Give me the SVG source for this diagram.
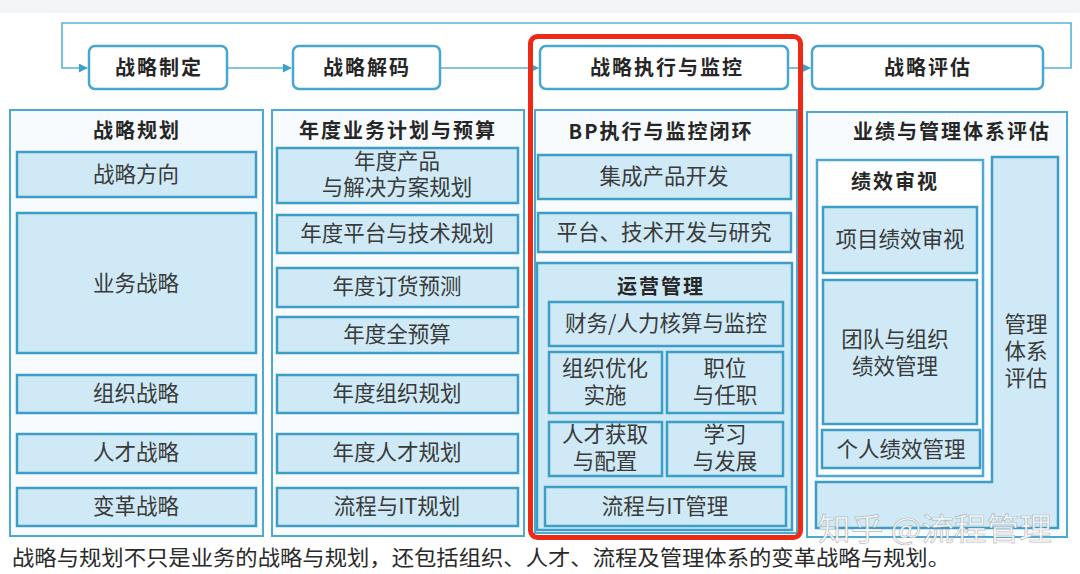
<svg xmlns="http://www.w3.org/2000/svg" width="1080" height="574" viewBox="0 0 1080 574">
<defs>
<marker id="arr" viewBox="0 0 10 10" refX="9" refY="5" markerWidth="10" markerHeight="9" markerUnits="userSpaceOnUse" orient="auto">
<path d="M0,0 L10,5 L0,10 z" fill="#3aa0cc"/>
</marker>
<style>
.top{fill:#ffffff;stroke:#47a7cf;stroke-width:2.5}
.panel{fill:#f8fbfd;stroke:#4ea9d0;stroke-width:2}
.box{fill:#cfeaf6;stroke:#3c9dc7;stroke-width:2.5}
.sub{fill:#ffffff;stroke:#4ea9d0;stroke-width:2.5}
.conn{fill:none;stroke:#5ab2d7;stroke-width:1.6}
.h{font-family:"Noto Sans CJK SC","Liberation Sans",sans-serif;font-weight:700;font-size:20px;fill:#262626;text-anchor:middle;letter-spacing:2px}
.t{font-family:"Noto Sans CJK SC","Liberation Serif",sans-serif;font-weight:400;font-size:21.5px;fill:#3a3a3a;text-anchor:middle}
.f{font-family:"Noto Sans CJK SC","Liberation Serif",sans-serif;font-size:21px;fill:#2a2a2a}
.wm{font-family:"Noto Sans CJK SC","Liberation Sans",sans-serif;font-size:31px;fill:#ffffff;fill-opacity:0.92;stroke:#8a8a8a;stroke-width:0.7;stroke-opacity:0.6}
</style>
</defs>
<rect x="0" y="0" width="1080" height="574" fill="#ffffff"/>
<rect x="0" y="0" width="1080" height="13" fill="#f4f5f7"/>

<g id="connectors">
<path class="conn" d="M1043,68 H1071 V23 H62 V68 H87" marker-end="url(#arr)"/>
<path class="conn" d="M227,68 H291" marker-end="url(#arr)"/>
<path class="conn" d="M440,68 H538" marker-end="url(#arr)"/>
<path class="conn" d="M788,68 H810" marker-end="url(#arr)"/>
</g>

<g id="stage-formulate">
<rect class="top" x="89" y="46" width="138" height="43" rx="6"/>
<text class="h" x="159" y="75">战略制定</text>
</g>
<g id="stage-decode">
<rect class="top" x="293" y="46" width="147" height="43" rx="6"/>
<text class="h" x="367" y="75">战略解码</text>
</g>
<g id="stage-execute">
<rect class="top" x="540" y="46" width="248" height="43" rx="6"/>
<text class="h" x="667" y="75">战略执行与监控</text>
</g>
<g id="stage-evaluate">
<rect class="top" x="812" y="46" width="231" height="43" rx="6"/>
<text class="h" x="928" y="75">战略评估</text>
</g>

<g id="col-planning">
<rect class="panel" x="10" y="110" width="253" height="426"/>
<text class="h" x="137" y="138">战略规划</text>
<rect class="box" x="17" y="152" width="239" height="45"/>
<text class="t" x="136" y="182">战略方向</text>
<rect class="box" x="17" y="213" width="239" height="140"/>
<text class="t" x="136" y="291">业务战略</text>
<rect class="box" x="17" y="375" width="239" height="38"/>
<text class="t" x="136" y="401">组织战略</text>
<rect class="box" x="17" y="434" width="239" height="39"/>
<text class="t" x="136" y="460">人才战略</text>
<rect class="box" x="17" y="488" width="239" height="38"/>
<text class="t" x="136" y="514">变革战略</text>
</g>

<g id="col-annual">
<rect class="panel" x="272" y="110" width="252" height="426"/>
<text class="h" x="398" y="138">年度业务计划与预算</text>
<rect class="box" x="277" y="148" width="241" height="55"/>
<text class="t" x="397" y="169">年度产品<tspan x="397" dy="26">与解决方案规划</tspan></text>
<rect class="box" x="277" y="215" width="241" height="38"/>
<text class="t" x="397" y="241">年度平台与技术规划</text>
<rect class="box" x="277" y="268" width="241" height="39"/>
<text class="t" x="397" y="294">年度订货预测</text>
<rect class="box" x="277" y="317" width="241" height="36"/>
<text class="t" x="397" y="342">年度全预算</text>
<rect class="box" x="277" y="375" width="241" height="38"/>
<text class="t" x="397" y="401">年度组织规划</text>
<rect class="box" x="277" y="434" width="241" height="39"/>
<text class="t" x="397" y="460">年度人才规划</text>
<rect class="box" x="277" y="488" width="241" height="38"/>
<text class="t" x="397" y="514">流程与IT规划</text>
</g>

<g id="col-execution">
<rect class="panel" x="535" y="110" width="262" height="423"/>
<text class="h" x="661" y="139">BP执行与监控闭环</text>
<rect class="box" x="538" y="155" width="253" height="44"/>
<text class="t" x="664" y="184">集成产品开发</text>
<rect class="box" x="538" y="213" width="253" height="39"/>
<text class="t" x="664" y="240">平台、技术开发与研究</text>
<rect class="box" x="537" y="263" width="255" height="267"/>
<text class="h" x="661" y="294">运营管理</text>
<rect class="box" x="549" y="302" width="234" height="44"/>
<text class="t" x="666" y="331">财务/人力核算与监控</text>
<rect class="box" x="549" y="352" width="113" height="61"/>
<text class="t" x="605" y="376">组织优化<tspan x="605" dy="27">实施</tspan></text>
<rect class="box" x="667" y="352" width="116" height="61"/>
<text class="t" x="725" y="376">职位<tspan x="725" dy="27">与任职</tspan></text>
<rect class="box" x="549" y="422" width="113" height="54"/>
<text class="t" x="605" y="442">人才获取<tspan x="605" dy="27">与配置</tspan></text>
<rect class="box" x="667" y="422" width="116" height="54"/>
<text class="t" x="725" y="442">学习<tspan x="725" dy="27">与发展</tspan></text>
<rect class="box" x="545" y="487" width="241" height="39"/>
<text class="t" x="665" y="514">流程与IT管理</text>
</g>

<g id="focus-highlight">
<rect x="530.5" y="36.5" width="270" height="501" rx="7" fill="none" stroke="#ee2a16" stroke-width="5"/>
</g>

<g id="col-evaluation">
<rect class="panel" x="807" y="112" width="260" height="425"/>
<text class="h" x="952" y="139">业绩与管理体系评估</text>
<path class="box" d="M992,157 H1058 V528 H816 V482 H992 Z"/>
<text class="t" x="1026" y="332">管理<tspan x="1026" dy="27">体系</tspan><tspan x="1026" dy="27">评估</tspan></text>
<rect class="sub" x="817" y="160" width="166" height="316"/>
<text class="h" x="895" y="189">绩效审视</text>
<rect class="box" x="823" y="207" width="154" height="66"/>
<text class="t" x="900" y="247">项目绩效审视</text>
<rect class="box" x="823" y="280" width="154" height="144"/>
<text class="t" x="895" y="347">团队与组织<tspan x="895" dy="27">绩效管理</tspan></text>
<rect class="box" x="822" y="430" width="158" height="38"/>
<text class="t" x="901" y="457">个人绩效管理</text>
</g>

<text class="f" x="12" y="565" textLength="938" lengthAdjust="spacingAndGlyphs">战略与规划不只是业务的战略与规划，还包括组织、人才、流程及管理体系的变革战略与规划。</text>
<text class="wm" x="818" y="540" textLength="234" lengthAdjust="spacingAndGlyphs">知乎 @流程管理</text>
</svg>
